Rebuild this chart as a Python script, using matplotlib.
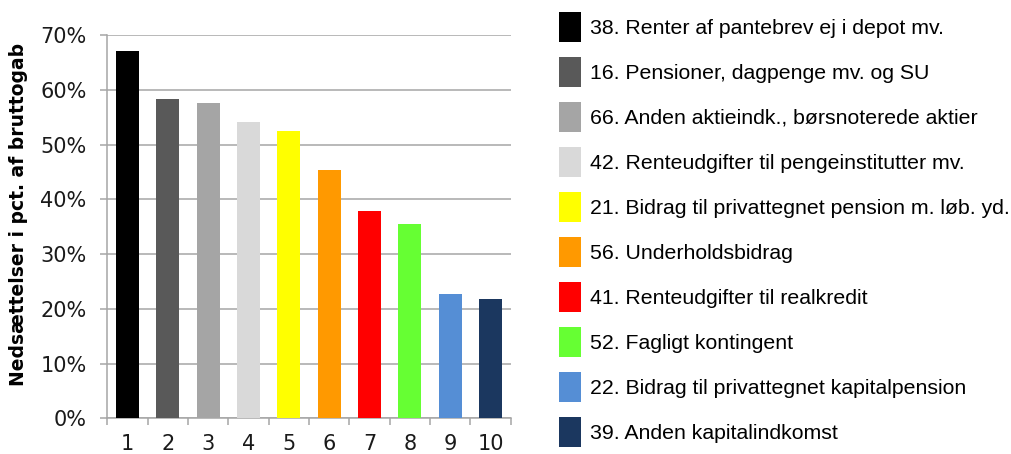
import matplotlib.pyplot as plt
from matplotlib.ticker import PercentFormatter, MultipleLocator

categories = [1, 2, 3, 4, 5, 6, 7, 8, 9, 10]
values = [67.1, 58.4, 57.6, 54.2, 52.5, 45.4, 37.9, 35.5, 22.7, 21.8]
labels = [
    "38. Renter af pantebrev ej i depot mv.",
    "16. Pensioner, dagpenge mv. og SU",
    "66. Anden aktieindk., børsnoterede aktier",
    "42. Renteudgifter til pengeinstitutter mv.",
    "21. Bidrag til privattegnet pension m. løb. yd.",
    "56. Underholdsbidrag",
    "41. Renteudgifter til realkredit",
    "52. Fagligt kontingent",
    "22. Bidrag til privattegnet kapitalpension",
    "39. Anden kapitalindkomst",
]
colors = [
    "#000000", "#595959", "#a5a5a5", "#d9d9d9", "#ffff00",
    "#ff9900", "#ff0000", "#66ff33", "#558ed5", "#1b375f",
]

grid_gray = "#a6a6a6"

fig = plt.figure(figsize=(10.12, 4.54), dpi=100)
ax = fig.add_axes([0.106, 0.0786, 0.3987, 0.8436])

bars = []
for x, v, c, lab in zip(categories, values, colors, labels):
    b = ax.bar(x, v / 100, width=0.57, color=c, label=lab, zorder=3)
    bars.append(b)

ax.set_xlim(0.5, 10.5)
ax.set_ylim(0, 0.7)
ax.yaxis.set_major_locator(MultipleLocator(0.1))
ax.yaxis.set_major_formatter(PercentFormatter(1.0, decimals=0))
ax.set_xticks(categories)
ax.set_xticks([c - 0.5 for c in categories] + [10.5], minor=True)

ax.grid(axis="y", color=grid_gray, linewidth=1.1, zorder=0)
for s in ["top", "right"]:
    ax.spines[s].set_visible(False)
for s in ["left", "bottom"]:
    ax.spines[s].set_color(grid_gray)
    ax.spines[s].set_linewidth(1.1)

ax.tick_params(axis="y", length=5, width=1.1, color=grid_gray, pad=10,
               labelsize=15, labelcolor="#1a1a1a")
ax.tick_params(axis="x", which="major", length=0, pad=11,
               labelsize=15, labelcolor="#1a1a1a")
ax.tick_params(axis="x", which="minor", length=5, width=1.1, color=grid_gray)

ax.set_ylabel("Nedsættelser i pct. af bruttogab", fontsize=13.5,
              fontweight="bold")
ax.yaxis.set_label_coords(-0.196, 0.533)

fig.legend(
    handles=bars,
    labels=labels,
    loc="upper left",
    bbox_to_anchor=(559 / 1012, 1 - 12 / 454),
    bbox_transform=fig.transFigure,
    frameon=False,
    borderpad=0,
    borderaxespad=0,
    handlelength=1.035,
    handleheight=1.795,
    handletextpad=0.43,
    labelspacing=0.706,
    prop={"family": "Liberation Sans", "size": 15.3},
)

fig.savefig("out.png", dpi=100)
